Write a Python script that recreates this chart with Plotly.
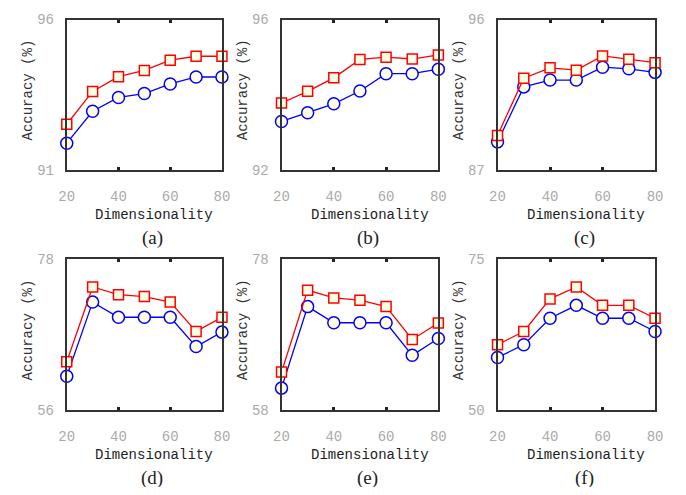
import plotly.graph_objects as go

dims = [20, 30, 40, 50, 60, 70, 80]

red_a = [92.52, 93.61, 94.10, 94.31, 94.65, 94.78, 94.78]
blue_a = [91.89, 92.95, 93.41, 93.54, 93.86, 94.09, 94.09]
red_b = [93.78, 94.09, 94.45, 94.94, 95.00, 94.95, 95.06]
blue_b = [93.29, 93.52, 93.76, 94.10, 94.56, 94.56, 94.68]
red_c = [89.06, 92.49, 93.11, 92.97, 93.82, 93.63, 93.42]
blue_c = [88.68, 91.97, 92.38, 92.38, 93.15, 93.05, 92.84]
red_d = [63.05, 73.96, 72.83, 72.55, 71.75, 67.47, 69.54]
blue_d = [60.93, 71.75, 69.54, 69.54, 69.54, 65.26, 67.37]
red_e = [63.04, 73.90, 72.87, 72.57, 71.72, 67.36, 69.54]
blue_e = [60.91, 71.72, 69.58, 69.58, 69.58, 65.26, 67.49]
red_f = [60.84, 63.03, 68.43, 70.41, 67.36, 67.36, 65.22]
blue_f = [58.71, 60.84, 65.22, 67.36, 65.22, 65.22, 63.03]

y_ranges = [(91, 96), (92, 96), (87, 96), (56, 78), (58, 78), (50, 75)]
captions = ["(a)", "(b)", "(c)", "(d)", "(e)", "(f)"]
x_ticks = [20, 40, 60, 80]

reds = [red_a, red_b, red_c, red_d, red_e, red_f]
blues = [blue_a, blue_b, blue_c, blue_d, blue_e, blue_f]

# figure sized so that with the page's 8px body margin it fills 686x495
W, H = 670, 479
OFF = 8
col_px = [(60, 219), (280, 440.7), (501.3, 662.7)]
row_px = [(12.7, 168.3), (260.7, 416.7)]

MONO = "Liberation Mono, Courier New, monospace"
SERIF = "Liberation Serif, Times New Roman, serif"
CREAM = "#FFFFE6"

fig = go.Figure()
layout = dict(
    width=W, height=H, margin=dict(l=0, r=0, t=0, b=0),
    paper_bgcolor="white", plot_bgcolor="white", showlegend=False,
)
annotations = []

for i in range(6):
    r, c = divmod(i, 3)
    n = "" if i == 0 else str(i + 1)
    xa, ya = "xaxis" + n, "yaxis" + n
    xr, yr = "x" + n, "y" + n
    x0, x1 = (v - OFF for v in col_px[c])
    t0, t1 = (v - OFF for v in row_px[r])
    ylo, yhi = y_ranges[i]
    common = dict(
        showline=True, linewidth=2, linecolor="#333333", mirror="ticks",
        ticks="inside", ticklen=3, tickwidth=3, tickcolor="#222222",
        showgrid=False, zeroline=False,
        tickfont=dict(family=MONO, size=14, color="#AAAAAA"),
    )
    layout[xa] = dict(
        domain=[x0 / W, x1 / W], range=[20, 80], anchor=yr,
        tickvals=x_ticks, ticklabelstandoff=12, **common,
    )
    layout[ya] = dict(
        domain=[1 - t1 / H, 1 - t0 / H], range=[ylo, yhi], anchor=xr,
        tickvals=[ylo, yhi], ticklabelstandoff=8, **common,
    )
    fig.add_trace(go.Scatter(
        x=dims, y=blues[i], mode="lines+markers", xaxis=xr, yaxis=yr,
        line=dict(color="#0000FF", width=1.3),
        marker=dict(symbol="circle", size=12, color=CREAM,
                    line=dict(color="#0000FF", width=1.5)),
        cliponaxis=False,
    ))
    fig.add_trace(go.Scatter(
        x=dims, y=reds[i], mode="lines+markers", xaxis=xr, yaxis=yr,
        line=dict(color="#FF0000", width=1.3),
        marker=dict(symbol="square", size=10, color=CREAM,
                    line=dict(color="#FF0000", width=1.5)),
        cliponaxis=False,
    ))
    annotations.append(dict(
        text="Accuracy (%)", textangle=-90, showarrow=False,
        xref=xr + " domain", yref=yr + " domain", x=0, y=0.5,
        xanchor="center", yanchor="middle", xshift=-39, yshift=5,
        font=dict(family=MONO, size=14, color="#333333"),
    ))
    annotations.append(dict(
        text="Dimensionality", showarrow=False,
        xref=xr + " domain", yref=yr + " domain", x=0.5, y=0,
        xanchor="center", yanchor="middle", xshift=10, yshift=-45,
        font=dict(family=MONO, size=14, color="#222222"),
    ))
    annotations.append(dict(
        text=captions[i], showarrow=False,
        xref=xr + " domain", yref=yr + " domain", x=0.5, y=0,
        xanchor="center", yanchor="middle", xshift=8, yshift=-68,
        font=dict(family=SERIF, size=19, color="#222222"),
    ))

layout["annotations"] = annotations
fig.update_layout(**layout)
fig.write_html("out.html", config={"displayModeBar": False})
